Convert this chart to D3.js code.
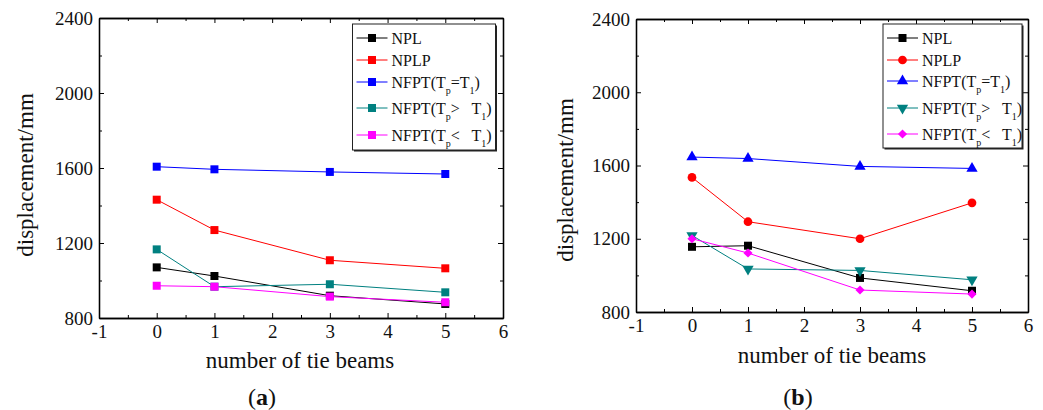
<!DOCTYPE html>
<html>
<head>
<meta charset="utf-8">
<script src="https://cdn.jsdelivr.net/npm/d3@7"></script>
<style>
  body { margin: 0; background: #fff; }
  svg text { font-family: "Liberation Serif", "DejaVu Serif", serif; }
</style>
</head>
<body>
<svg id="chart" width="1043" height="410"></svg>
<script>
// data
const beams = [0, 1, 3, 5]
const xTicks = [-1, 0, 1, 2, 3, 4, 5, 6]
const xMinor = [-0.5, 0.5, 1.5, 2.5, 3.5, 4.5, 5.5]
const yTicks = [800, 1200, 1600, 2000, 2400]
const yMinor = [1000, 1400, 1800, 2200]

const aNPL = [1070, 1024, 919, 875]
const aNPLP = [1431, 1269, 1108, 1065]
const aEqual = [1607, 1593, 1579, 1568]
const aGreater = [1166, 967, 980, 937]
const aLess = [972, 967, 914, 884]

const bNPL = [1156, 1162, 986, 916]
const bNPLP = [1535, 1293, 1200, 1396]
const bEqual = [1646, 1638, 1595, 1584]
const bGreater = [1218, 1035, 1027, 976]
const bLess = [1200, 1122, 920, 898]

// legend labels, pieces flagged true are subscripts
const labels = [
    [['NPL', false]],
    [['NPLP', false]],
    [['NFPT(T', false], ['p', true], ['=T', false], ['1', true], [')', false]],
    [['NFPT(T', false], ['p', true], ['>\u00a0\u00a0 T', false], ['1', true], [')', false]],
    [['NFPT(T', false], ['p', true], ['<\u00a0\u00a0 T', false], ['1', true], [')', false]]
]
const colors = ['#000000', '#ff0000', '#0000ff', '#008080', '#ff00ff']

const svg = d3.select('#chart')
const serif = '"Liberation Serif", "DejaVu Serif", serif'

const sq = d3.symbol().type(d3.symbolSquare).size(64)
const panels = [
    {
        left: 99, right: 503, top: 18, bottom: 318,
        series: [aNPL, aNPLP, aEqual, aGreater, aLess],
        markers: [sq, sq, sq, sq, sq],
        rot: [0, 0, 0, 0, 0],
        legend: {x: 352.5, y: 24, w: 143, h: 126, rows: [38, 60, 82, 108, 135]},
        xTitle: [300, 368], yTitle: [33, 175], tag: [262, 405], tagText: 'a'
    },
    {
        left: 636, right: 1028, top: 19, bottom: 312,
        series: [bNPL, bNPLP, bEqual, bGreater, bLess],
        markers: [
            sq,
            d3.symbol().type(d3.symbolCircle).size(60),
            d3.symbol().type(d3.symbolTriangle).size(55),
            d3.symbol().type(d3.symbolTriangle).size(55),
            d3.symbol().type(d3.symbolSquare).size(42)
        ],
        rot: [0, 0, 0, 180, 45],
        legend: {x: 883, y: 24, w: 139, h: 124, rows: [38, 60, 81, 108, 134]},
        xTitle: [832, 363], yTitle: [573, 180], tag: [798, 405], tagText: 'b'
    }
]

panels.forEach(drawPanel)

function drawPanel(p) {
    const x = d3.scaleLinear().domain([-1, 6]).range([p.left, p.right])
    const y = d3.scaleLinear().domain([800, 2400]).range([p.bottom, p.top])
    const g = svg.append('g')

    const fmt = d => String(d)
    const styleAxis = sel => {
        sel.attr('font-family', serif)
        sel.selectAll('.domain').attr('stroke', '#000').attr('stroke-width', 1.3)
        sel.selectAll('.tick line').attr('stroke', '#000').attr('stroke-width', 1)
        sel.selectAll('text').attr('font-size', 19).attr('fill', '#111')
    }

    // bottom / left with labels
    g.append('g').attr('transform', `translate(0,${p.bottom})`)
        .call(d3.axisBottom(x).tickValues(xTicks).tickSize(-5).tickSizeOuter(0).tickPadding(7).tickFormat(fmt))
        .call(styleAxis)
    g.append('g').attr('transform', `translate(0,${p.bottom})`)
        .call(d3.axisBottom(x).tickValues(xMinor).tickSize(-3).tickSizeOuter(0).tickFormat(''))
        .call(styleAxis)
    g.append('g').attr('transform', `translate(${p.left},0)`)
        .call(d3.axisLeft(y).tickValues(yTicks).tickSize(-5).tickSizeOuter(0).tickPadding(6).tickFormat(fmt))
        .call(styleAxis)
    g.append('g').attr('transform', `translate(${p.left},0)`)
        .call(d3.axisLeft(y).tickValues(yMinor).tickSize(-3).tickSizeOuter(0).tickFormat(''))
        .call(styleAxis)
    // top / right, ticks only
    g.append('g').attr('transform', `translate(0,${p.top})`)
        .call(d3.axisTop(x).tickValues(xTicks).tickSize(-5).tickSizeOuter(0).tickFormat(''))
        .call(styleAxis)
    g.append('g').attr('transform', `translate(0,${p.top})`)
        .call(d3.axisTop(x).tickValues(xMinor).tickSize(-3).tickSizeOuter(0).tickFormat(''))
        .call(styleAxis)
    g.append('g').attr('transform', `translate(${p.right},0)`)
        .call(d3.axisRight(y).tickValues(yTicks).tickSize(-5).tickSizeOuter(0).tickFormat(''))
        .call(styleAxis)
    g.append('g').attr('transform', `translate(${p.right},0)`)
        .call(d3.axisRight(y).tickValues(yMinor).tickSize(-3).tickSizeOuter(0).tickFormat(''))
        .call(styleAxis)

    // series
    const line = d3.line().x((d, i) => x(beams[i])).y(d => y(d))
    p.series.forEach((vals, k) => {
        g.append('path')
            .attr('d', line(vals))
            .attr('fill', 'none')
            .attr('stroke', colors[k])
            .attr('stroke-width', 1)
        g.selectAll(null)
            .data(vals)
            .enter().append('path')
            .attr('d', p.markers[k])
            .attr('transform', (d, i) => `translate(${x(beams[i])},${y(d)}) rotate(${p.rot[k]})`)
            .attr('fill', colors[k])
    })

    // legend
    const L = p.legend
    g.append('rect')
        .attr('x', L.x + 1.5).attr('y', L.y + 1.5).attr('width', L.w).attr('height', L.h)
        .attr('fill', '#222')
    g.append('rect')
        .attr('x', L.x).attr('y', L.y).attr('width', L.w).attr('height', L.h)
        .attr('fill', '#fff').attr('stroke', '#222').attr('stroke-width', 1)
    labels.forEach((parts, k) => {
        const cy = L.rows[k]
        g.append('line')
            .attr('x1', L.x + 4).attr('x2', L.x + 35)
            .attr('y1', cy).attr('y2', cy)
            .attr('stroke', colors[k]).attr('stroke-width', 1)
        g.append('path')
            .attr('d', p.markers[k])
            .attr('transform', `translate(${L.x + 19.5},${cy}) rotate(${p.rot[k]})`)
            .attr('fill', colors[k])
        const t = g.append('text')
            .attr('x', L.x + 39).attr('y', cy + 5.5)
            .attr('font-size', 16).attr('fill', '#111')
        let down = false
        parts.forEach(([s, sub]) => {
            const ts = t.append('tspan').text(s)
            if (sub && !down) { ts.attr('dy', 6).attr('font-size', 10); down = true }
            else if (!sub && down) { ts.attr('dy', -6); down = false }
        })
    })

    // titles
    g.append('text')
        .attr('x', p.xTitle[0]).attr('y', p.xTitle[1])
        .attr('text-anchor', 'middle').attr('font-size', 23).attr('fill', '#111')
        .text('number of tie beams')
    g.append('text')
        .attr('transform', `translate(${p.yTitle[0]},${p.yTitle[1]}) rotate(-90)`)
        .attr('text-anchor', 'middle').attr('font-size', 23).attr('fill', '#111')
        .text('displacement/mm')
    const tag = g.append('text')
        .attr('x', p.tag[0]).attr('y', p.tag[1])
        .attr('text-anchor', 'middle').attr('font-size', 24).attr('fill', '#111')
    tag.append('tspan').text('(')
    tag.append('tspan').attr('font-weight', 'bold').text(p.tagText)
    tag.append('tspan').text(')')
}
</script>
</body>
</html>
